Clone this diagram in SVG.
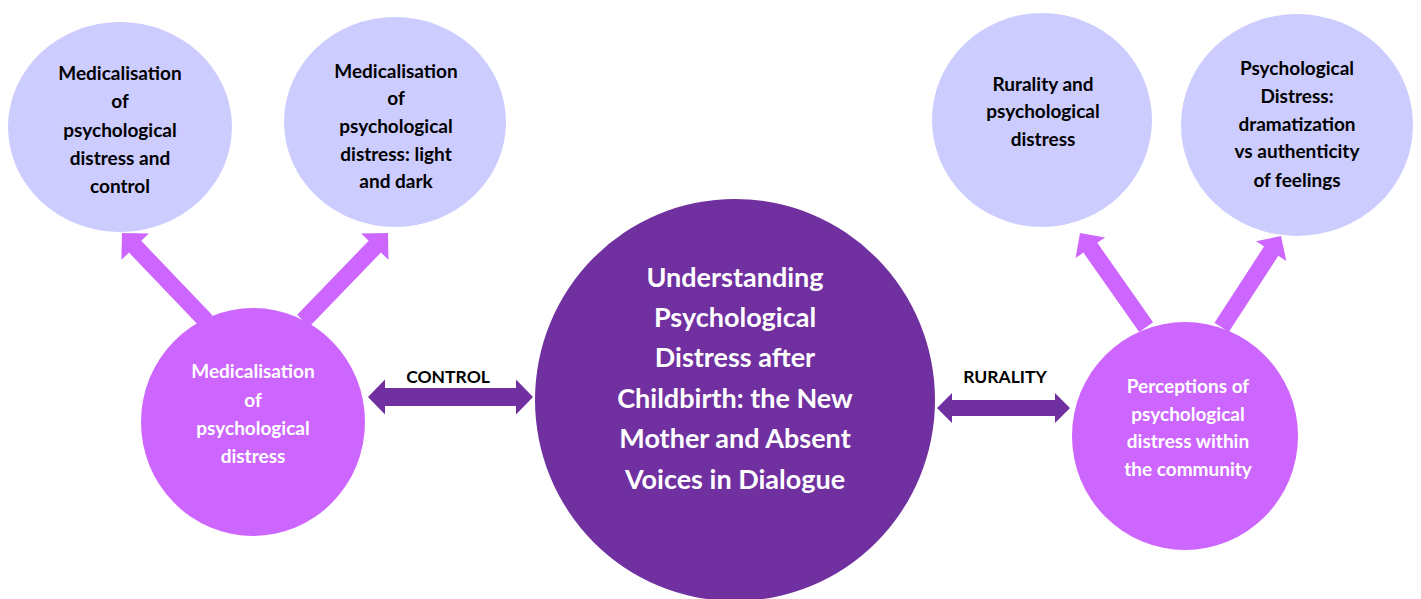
<svg xmlns="http://www.w3.org/2000/svg" width="1421" height="599" viewBox="0 0 1421 599">
<style>
.lav{fill:#CCCCFF}
.pink{fill:#CC66FF}
.dark{fill:#7030A0}
.t{font-family:Lato,"Open Sans","Liberation Sans",sans-serif;font-weight:bold;text-anchor:middle}
.tb{font-size:19px;fill:#000}
.tw{font-size:19px;fill:#fff}
.tc{font-size:27px;fill:#fff}
.lbl{font-size:17.5px;fill:#000}
.ar{fill:#CC66FF}
.hr{fill:#7030A0}
</style>
<rect width="1421" height="599" fill="#fff"/>
<g id="connectors">
  <polygon class="ar" transform="translate(122,233) rotate(-133.7)" points="0,0 -19,-19 -19,-8.5 -122,-8.5 -122,8.5 -19,8.5 -19,19"/>
  <polygon class="ar" transform="translate(388,233) rotate(-46)" points="0,0 -19,-19 -19,-8.5 -122,-8.5 -122,8.5 -19,8.5 -19,19"/>
  <polygon class="ar" transform="translate(1080,233) rotate(-125.1)" points="0,0 -18,-18 -18,-8.5 -115,-8.5 -115,8.5 -18,8.5 -18,18"/>
  <polygon class="ar" transform="translate(1281,236) rotate(-57)" points="0,0 -18,-18 -18,-8.5 -109,-8.5 -109,8.5 -18,8.5 -18,18"/>
  <polygon class="hr" points="368,397 385,379.5 385,388 516,388 516,379.5 533,397 516,414.5 516,406 385,406 385,414.5"/>
  <polygon class="hr" points="937,408 952,393 952,400 1055,400 1055,393 1070,408 1055,423 1055,416 952,416 952,423"/>
  <text class="t lbl" x="448" y="383">CONTROL</text>
  <text class="t lbl" x="1005" y="383">RURALITY</text>
</g>
<g id="node-med-control">
  <ellipse class="lav" cx="120" cy="127" rx="112" ry="105"/>
  <text class="t tb" x="120" y="80">Medicalisation</text>
  <text class="t tb" x="120" y="108">of</text>
  <text class="t tb" x="120" y="137">psychological</text>
  <text class="t tb" x="120" y="165">distress and</text>
  <text class="t tb" x="120" y="193">control</text>
</g>
<g id="node-med-light-dark">
  <ellipse class="lav" cx="395" cy="122" rx="111" ry="105"/>
  <text class="t tb" x="396" y="78">Medicalisation</text>
  <text class="t tb" x="396" y="105">of</text>
  <text class="t tb" x="396" y="133">psychological</text>
  <text class="t tb" x="396" y="161">distress: light</text>
  <text class="t tb" x="396" y="188">and dark</text>
</g>
<g id="node-medicalisation">
  <ellipse class="pink" cx="253" cy="422" rx="112" ry="114"/>
  <text class="t tw" x="253" y="378">Medicalisation</text>
  <text class="t tw" x="253" y="407">of</text>
  <text class="t tw" x="253" y="435">psychological</text>
  <text class="t tw" x="253" y="463">distress</text>
</g>
<g id="node-center">
  <ellipse class="dark" cx="735" cy="400" rx="200" ry="201"/>
  <text class="t tc" x="735" y="287">Understanding</text>
  <text class="t tc" x="735" y="327">Psychological</text>
  <text class="t tc" x="735" y="367">Distress after</text>
  <text class="t tc" x="735" y="408">Childbirth: the New</text>
  <text class="t tc" x="735" y="448">Mother and Absent</text>
  <text class="t tc" x="735" y="489">Voices in Dialogue</text>
</g>
<g id="node-rurality-distress">
  <ellipse class="lav" cx="1042" cy="120" rx="110" ry="107"/>
  <text class="t tb" x="1043" y="91">Rurality and</text>
  <text class="t tb" x="1043" y="118">psychological</text>
  <text class="t tb" x="1043" y="146">distress</text>
</g>
<g id="node-dramatization">
  <ellipse class="lav" cx="1297" cy="125" rx="116" ry="111"/>
  <text class="t tb" x="1297" y="75">Psychological</text>
  <text class="t tb" x="1297" y="103">Distress:</text>
  <text class="t tb" x="1297" y="131">dramatization</text>
  <text class="t tb" x="1297" y="158">vs authenticity</text>
  <text class="t tb" x="1297" y="187">of feelings</text>
</g>
<g id="node-perceptions">
  <ellipse class="pink" cx="1185" cy="436" rx="113" ry="114"/>
  <text class="t tw" x="1188" y="393">Perceptions of</text>
  <text class="t tw" x="1188" y="421">psychological</text>
  <text class="t tw" x="1188" y="448">distress within</text>
  <text class="t tw" x="1188" y="476">the community</text>
</g>
</svg>
